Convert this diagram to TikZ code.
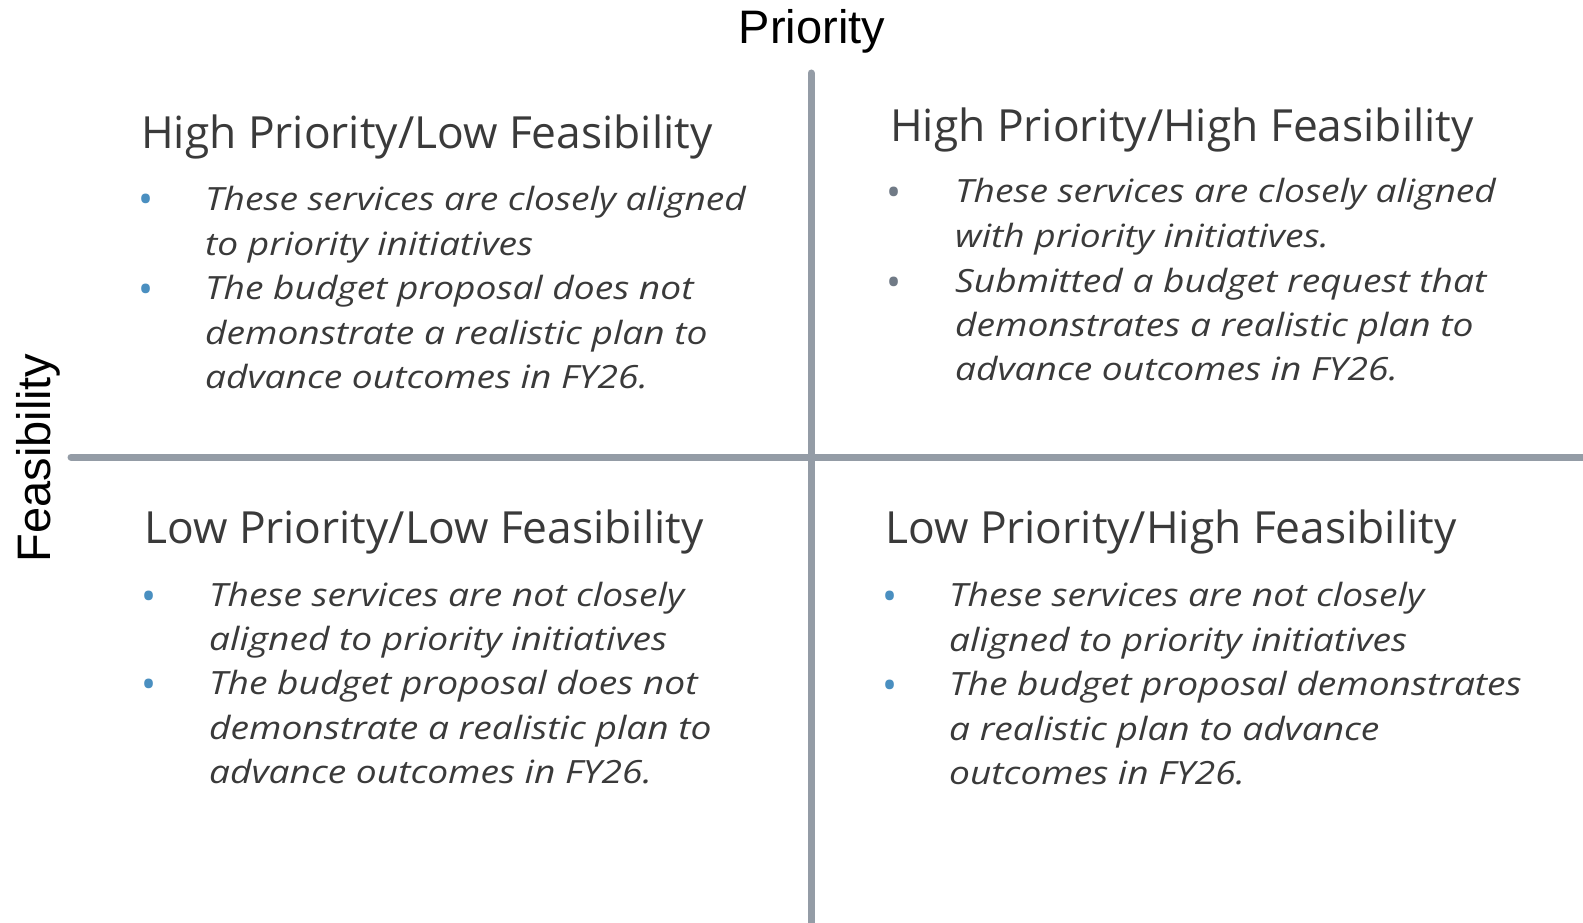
\documentclass[tikz,border=0pt]{standalone}
\usepackage{fontspec}
\setmainfont{Open Sans}
\newfontfamily\axisfont{Liberation Sans}
\newfontfamily\bodyfont[FakeStretch=1.16]{Open Sans}
\definecolor{txt}{HTML}{3A3A3A}
\definecolor{lnc}{HTML}{949CA6}
\definecolor{blu}{HTML}{4A8FC0}
\definecolor{gbul}{HTML}{707A86}
\tikzset{
  head/.style={anchor=base west, inner sep=0, text=txt, font=\fontsize{44.3}{52}\selectfont},
  body/.style={anchor=base west, inner sep=0, text=txt, font=\bodyfont\fontsize{32}{38}\selectfont\itshape},
  bul/.style={anchor=base west, inner sep=0, font=\fontsize{40}{44}\selectfont},
  axis/.style={inner sep=0, text=black, font=\fontsize{47}{52}\axisfont},
  grid/.style={draw=lnc, line width=7pt, line cap=round}
}
\begin{document}
\begin{tikzpicture}[x=1pt,y=-1pt]
\useasboundingbox (0,0) rectangle (1583,923);
% axes lines
\coordinate (vt) at (811,73);
\coordinate (vb) at (811,930);
\coordinate (hl) at (71,457);
\coordinate (hr) at (1590,457);
\draw[grid] (vt) -- (vb);
\draw[grid] (hl) -- (hr);
% axis labels
\node[axis, anchor=base] (pri) at (812,44) {Priority};
\node[axis, anchor=base, rotate=90] (fea) at (50,458) {Feasibility};
% top-left
\node[head] (h1) at (141,149) {High Priority/Low Feasibility};
\node[bul, text=blu] (b11) at (138,214) {•};
\node[body] (t11) at (205,210) {These services are closely aligned};
\node[body] (t12) at (205,255) {to priority initiatives};
\node[bul, text=blu] (b12) at (138,303) {•};
\node[body] (t13) at (205,299) {The budget proposal does not};
\node[body] (t14) at (205,344) {demonstrate a realistic plan to};
\node[body] (t15) at (205,388) {advance outcomes in FY26.};
% top-right
\node[head] (h2) at (890,142) {High Priority/High Feasibility};
\node[bul, text=gbul] (b21) at (886,207) {•};
\node[body] (t21) at (955,203) {These services are closely aligned};
\node[body] (t22) at (955,247) {with priority initiatives.};
\node[bul, text=gbul] (b22) at (886,296) {•};
\node[body] (t23) at (955,292) {Submitted a budget request that};
\node[body] (t24) at (955,336) {demonstrates a realistic plan to};
\node[body] (t25) at (955,380) {advance outcomes in FY26.};
% bottom-left
\node[head] (h3) at (144,543) {Low Priority/Low Feasibility};
\node[bul, text=blu] (b31) at (141,610) {•};
\node[body] (t31) at (209,606) {These services are not closely};
\node[body] (t32) at (209,650) {aligned to priority initiatives};
\node[bul, text=blu] (b32) at (141,698) {•};
\node[body] (t33) at (209,694) {The budget proposal does not};
\node[body] (t34) at (209,739) {demonstrate a realistic plan to};
\node[body] (t35) at (209,783) {advance outcomes in FY26.};
% bottom-right
\node[head] (h4) at (885,543) {Low Priority/High Feasibility};
\node[bul, text=blu] (b41) at (882,610) {•};
\node[body] (t41) at (949,606) {These services are not closely};
\node[body] (t42) at (949,651) {aligned to priority initiatives};
\node[bul, text=blu] (b42) at (882,699) {•};
\node[body] (t43) at (949,695) {The budget proposal demonstrates};
\node[body] (t44) at (949,740) {a realistic plan to advance};
\node[body] (t45) at (949,784) {outcomes in FY26.};
\end{tikzpicture}
\end{document}
